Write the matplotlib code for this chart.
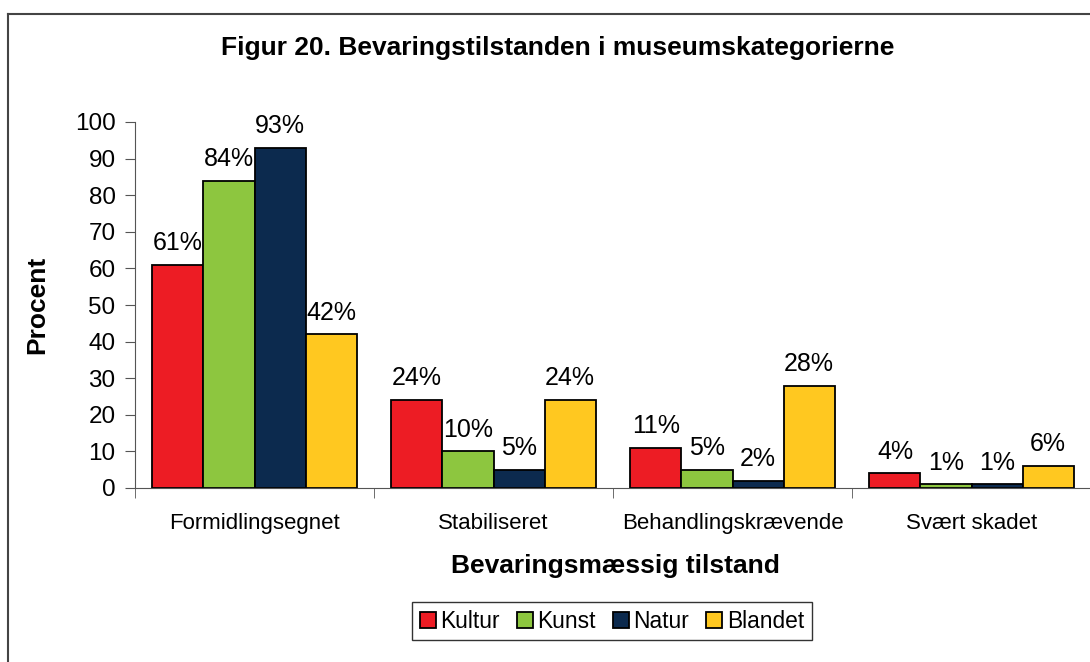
import matplotlib
matplotlib.use("Agg")
import matplotlib.pyplot as plt
import numpy as np
from matplotlib.patches import Patch
from matplotlib.lines import Line2D

plt.rcParams['font.family'] = ['Liberation Sans', 'DejaVu Sans']

kategorier = ['Formidlingsegnet', 'Stabiliseret', 'Behandlingskrævende', 'Svært skadet']
serier = ['Kultur', 'Kunst', 'Natur', 'Blandet']
kultur = [61, 24, 11, 4]
kunst = [84, 10, 5, 1]
natur = [93, 5, 2, 1]
blandet = [42, 24, 28, 6]
farver = ['#ED1C24', '#8DC63F', '#0C2A4E', '#FFC820']

W, H = 1090, 662
fig = plt.figure(figsize=(W / 100, H / 100), dpi=100)
ax = fig.add_axes([135 / W, 1 - 488 / H, (1091 - 135) / W, (488 - 122) / H])

x = np.arange(len(kategorier))
bw = 0.2134
for i, (navn, vals) in enumerate(zip(serier, [kultur, kunst, natur, blandet])):
    pos = x + (i - 1.5) * bw
    ax.bar(pos, vals, width=bw, color=farver[i], edgecolor='black', linewidth=1.3, label=navn)
    for px, v in zip(pos, vals):
        ax.annotate(f'{v}%', (px, v), xytext=(0, 7), textcoords='offset points',
                    ha='center', va='bottom', fontsize=18)

ax.set_xlim(-0.5, 3.5)
ax.set_ylim(0, 100)
ax.set_yticks(range(0, 101, 10))
ax.tick_params(axis='y', labelsize=17.5, length=7, color='#555555', pad=7)
ax.set_xticks(x)
ax.set_xticklabels(kategorier, fontsize=16)
ax.tick_params(axis='x', length=0, pad=18)
ax.set_xticks([-0.5, 0.5, 1.5, 2.5], minor=True)
ax.tick_params(axis='x', which='minor', length=7, color='#555555')
for s in ['top', 'right']:
    ax.spines[s].set_visible(False)
for s in ['left', 'bottom']:
    ax.spines[s].set_color('#555555')

fig.text(558 / W, 1 - 48 / H, 'Figur 20. Bevaringstilstanden i museumskategorierne',
         ha='center', va='center', fontsize=19, fontweight='bold')
fig.text(615 / W, 1 - 566 / H, 'Bevaringsmæssig tilstand',
         ha='center', va='center', fontsize=19, fontweight='bold')
fig.text(37 / W, 1 - 305 / H, 'Procent', rotation=90,
         ha='center', va='center', fontsize=19, fontweight='bold')

handles = [Patch(facecolor=c, edgecolor='black', linewidth=1.3) for c in farver]
fig.legend(handles, serier, loc='center', bbox_to_anchor=(612 / W, 1 - 621 / H), ncol=4,
           fontsize=16.4, frameon=True, fancybox=False, edgecolor='black',
           handlelength=0.7, handleheight=0.7, handletextpad=0.2, columnspacing=0.75,
           borderpad=0.35, borderaxespad=0)

# ramme om figuren
fig.add_artist(Line2D([8 / W, 8 / W], [0, 1 - 14 / H], color='#444444', linewidth=1.5))
fig.add_artist(Line2D([8 / W, 1], [1 - 14 / H, 1 - 14 / H], color='#444444', linewidth=1.5))

fig.savefig('out.png', dpi=100)
